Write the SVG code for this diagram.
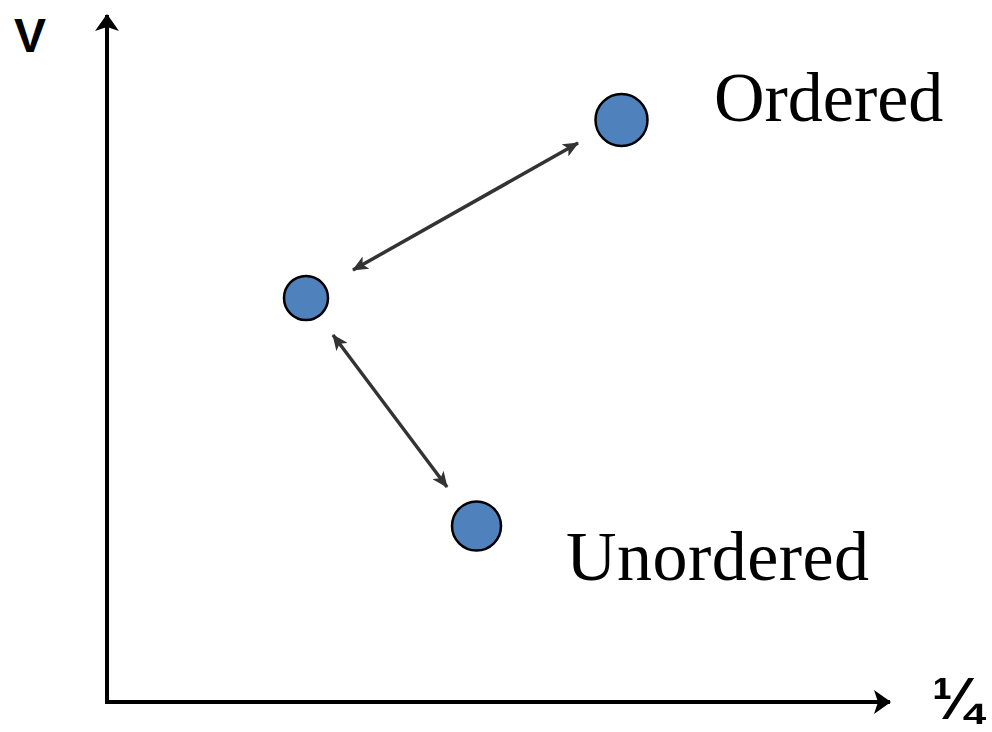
<svg xmlns="http://www.w3.org/2000/svg" width="992" height="732" viewBox="0 0 992 732">
  <style>
    .axis { stroke: #000; stroke-width: 4; fill: none; }
    .link { stroke: #333; stroke-width: 3.5; fill: none; }
    .dot { fill: #4F81BD; stroke: #000; stroke-width: 2.5; }
    .label { font-family: "Liberation Serif", "Times New Roman", serif; font-size: 70px; fill: #000; }
    .axislabel { font-family: "Liberation Sans", Arial, sans-serif; font-weight: bold; fill: #000; }
  </style>
  <defs>
    <marker id="axisHead" viewBox="0 0 17 24" refX="16" refY="12" markerWidth="17" markerHeight="24" markerUnits="userSpaceOnUse" orient="auto">
      <path d="M0,0 L17,12 L0,24 L4,12 Z" fill="#000"/>
    </marker>
    <marker id="linkHead" viewBox="0 0 16 14" refX="15" refY="7" markerWidth="16" markerHeight="14" markerUnits="userSpaceOnUse" orient="auto-start-reverse">
      <path d="M0,0 L16,7 L0,14 L4,7 Z" fill="#333"/>
    </marker>
  </defs>

  <!-- axes -->
  <g id="axes">
    <path class="axis" d="M107,702 L107,15" marker-end="url(#axisHead)"/>
    <path class="axis" d="M105,702 L890,702" marker-end="url(#axisHead)"/>
    <text class="axislabel" x="14" y="52" font-size="48">V</text>
    <text class="axislabel" x="932" y="719" font-size="60">¼</text>
  </g>

  <!-- connectors -->
  <g id="connectors">
    <line class="link" x1="353" y1="270" x2="578" y2="143" marker-start="url(#linkHead)" marker-end="url(#linkHead)"/>
    <line class="link" x1="333" y1="335" x2="447" y2="487" marker-start="url(#linkHead)" marker-end="url(#linkHead)"/>
  </g>

  <!-- states -->
  <g id="ordered">
    <circle class="dot" cx="621.5" cy="120" r="26"/>
    <text class="label" x="714" y="121">Ordered</text>
  </g>
  <g id="intermediate">
    <circle class="dot" cx="306" cy="298" r="22"/>
  </g>
  <g id="unordered">
    <circle class="dot" cx="476.5" cy="526" r="24.5"/>
    <text class="label" x="566" y="580" textLength="303">Unordered</text>
  </g>
</svg>
